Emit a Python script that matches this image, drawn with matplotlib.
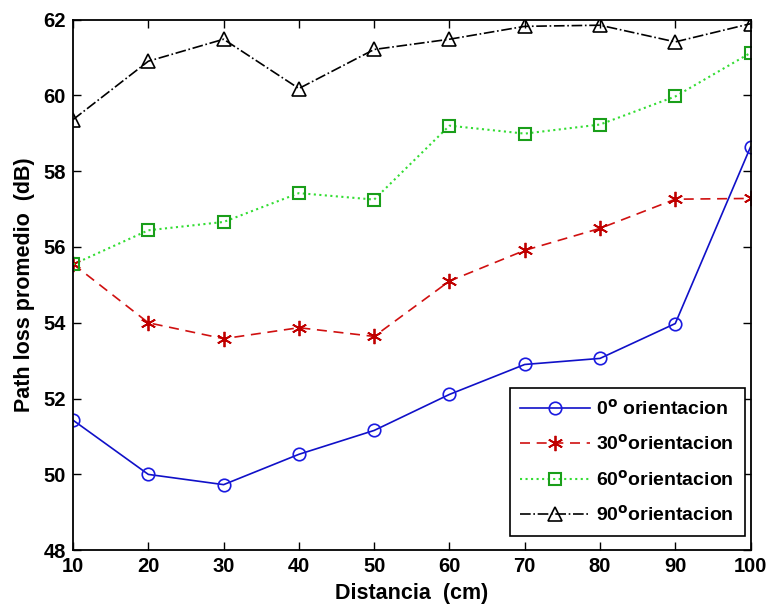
import matplotlib
matplotlib.use('Agg')
import matplotlib.pyplot as plt

plt.rcParams['font.family'] = ['Liberation Sans', 'DejaVu Sans']
plt.rcParams['font.weight'] = 'bold'
plt.rcParams['mathtext.default'] = 'bf'

distancia = [10, 20, 30, 40, 50, 60, 70, 80, 90, 100]
pl_0 = [51.43, 50.0, 49.73, 50.53, 51.16, 52.11, 52.9, 53.06, 53.98, 58.64]
pl_30 = [55.55, 54.0, 53.58, 53.87, 53.64, 55.1, 55.91, 56.49, 57.26, 57.28]
pl_60 = [55.54, 56.44, 56.66, 57.42, 57.25, 59.2, 58.99, 59.23, 59.97, 61.12]
pl_90 = [59.36, 60.9, 61.48, 60.18, 61.21, 61.48, 61.82, 61.85, 61.41, 61.89]

etiquetas = [r'0$^{\mathbf{o}}$ orientacion', r'30$^{\mathbf{o}}$orientacion',
             r'60$^{\mathbf{o}}$orientacion', r'90$^{\mathbf{o}}$orientacion']

fig = plt.figure(figsize=(7.69, 6.10), dpi=100)
ax = fig.add_axes([0.095, 0.098, 0.881, 0.87])

ax.plot(distancia, pl_0, '-', color='#1010c8', lw=1.2, marker='o', ms=9,
        mfc='none', mec='#1a1ae0', mew=1.2, label=etiquetas[0])
ax.plot(distancia, pl_30, '--', color='#d01010', lw=1.2, marker=(6, 2, 0), ms=11,
        mec='#c00000', mew=1.3, dashes=(6, 4), label=etiquetas[1])
ax.plot(distancia, pl_60, ':', color='#33dd33', lw=1.5, marker='s', ms=8,
        mfc='none', mec='#1a9e1a', mew=1.5, label=etiquetas[2])
ax.plot(distancia, pl_90, '-.', color='black', lw=1.2, marker='^', ms=10,
        mfc='none', mec='black', mew=1.2, label=etiquetas[3])

ax.set_xlim(10, 100)
ax.set_ylim(48, 62)
ax.set_xticks(distancia)
ax.set_yticks(range(48, 63, 2))
ax.tick_params(direction='in', top=True, right=True, length=6, width=1,
               labelsize=14.5, pad=5)
for lab in ax.get_xticklabels() + ax.get_yticklabels():
    lab.set_fontweight('bold')
for s in ax.spines.values():
    s.set_linewidth(1.3)

ax.set_xlabel('Distancia  (cm)', fontsize=15.5, fontweight='bold', labelpad=5)
ax.set_ylabel('Path loss promedio  (dB)', fontsize=15.5, fontweight='bold', labelpad=6)

leg = ax.legend(loc='lower right', bbox_to_anchor=(0.997, 0.02), borderaxespad=0.2,
                fancybox=False, edgecolor='black', framealpha=1, fontsize=14,
                handlelength=3.6, borderpad=0.55, labelspacing=0.8, handletextpad=0.3)
leg.get_frame().set_linewidth(1.2)

fig.savefig('out.png', dpi=100)
